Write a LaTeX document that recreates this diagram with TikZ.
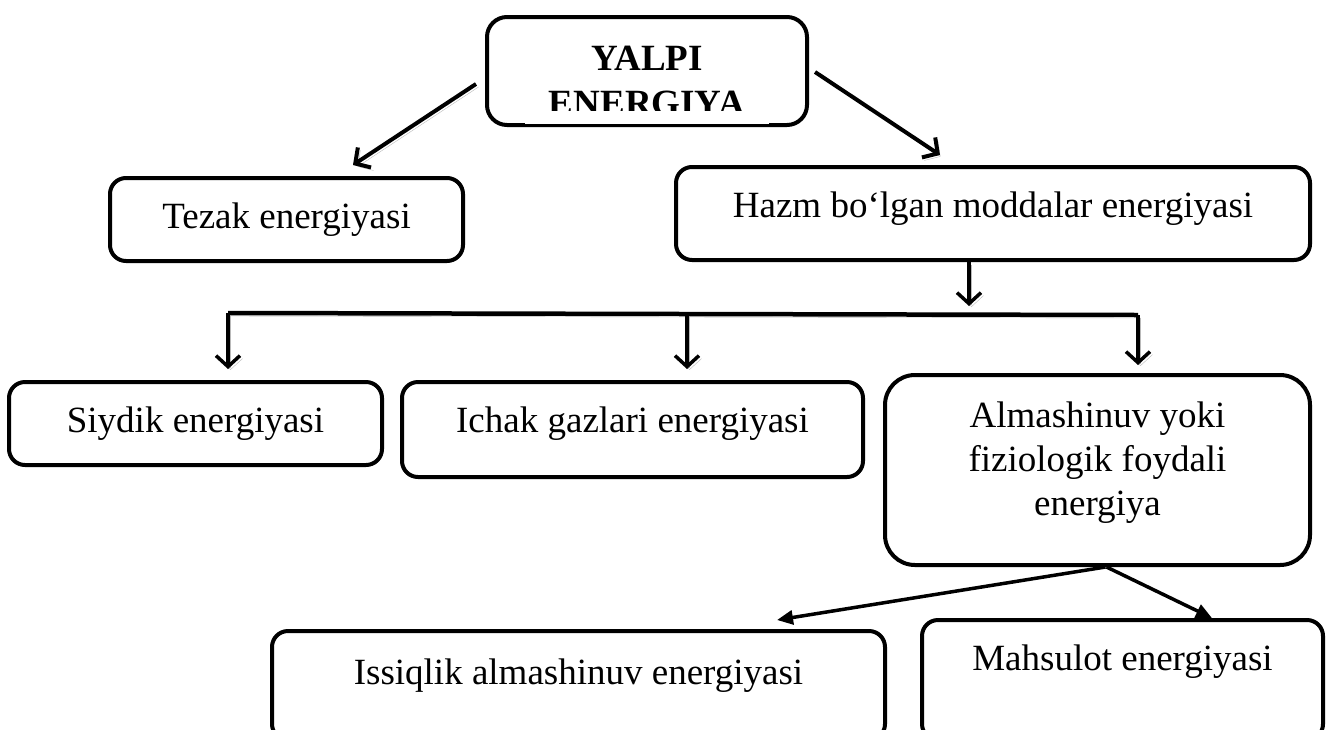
\documentclass[tikz,border=0pt]{standalone}
\usepackage{fontspec}
\setmainfont{Liberation Serif}
\usetikzlibrary{arrows.meta,calc}
\begin{document}
\begin{tikzpicture}[x=1pt,y=-1pt]

    \tikzset{
      ebox/.style={
        draw,
        line width=4pt,
        rounded corners=16pt,
        align=center,
        anchor=north,
        inner xsep=0pt,
        inner ysep=0pt,
        font=\fontsize{37}{44}\selectfont,
      },
      grayshadow/.style={
        preaction={draw=gray!55, transform canvas={shift={(2.5pt,-3pt)}}},
      },
      barb/.style={
        line width=4pt,
        -{Straight Barb[length=11pt,width=24pt]},
      },
      tri/.style={
        line width=3.5pt,
        -{Triangle[length=16pt,width=14pt]},
      },
    }
    \useasboundingbox (0,0) rectangle (1327,729);
    \clip (0,0) rectangle (1327,729);
	\node[ebox, minimum width=320pt, text height=98pt, text depth=10pt, rounded corners=20pt, font=\fontsize{37}{45}\selectfont\bfseries] (yalpi) at (647,15) {YALPI\\ENERGIYA};
	\fill[white] ($(yalpi.south west)+(40,-16)$) rectangle ($(yalpi.south east)+(-40,-3)$);
	\node[ebox, minimum width=353pt, text height=50pt, text depth=33pt] (tezak) at (286.5,176) {Tezak energiyasi};
	\node[ebox, minimum width=634pt, text height=50pt, text depth=43pt] (hazm) at (993,165) {Hazm bo‘lgan moddalar energiyasi};
	\node[ebox, minimum width=373pt, text height=50pt, text depth=33pt] (siydik) at (195.5,380) {Siydik energiyasi};
	\node[ebox, minimum width=461pt, text height=50pt, text depth=45pt] (ichak) at (632.5,380) {Ichak gazlari energiyasi};
	\node[ebox, minimum width=425pt, text height=140pt, text depth=50pt, rounded corners=30pt] (almash) at (1097.5,373) {Almashinuv yoki\\fiziologik foydali\\energiya};
	\node[ebox, minimum width=613pt, text height=53pt, text depth=56pt] (issiq) at (578.5,629) {Issiqlik almashinuv energiyasi};
	\node[ebox, minimum width=401pt, text height=50pt, text depth=70pt] (mahsul) at (1122.5,618) {Mahsulot energiyasi};

	\draw[barb, grayshadow] ($(yalpi.west)+(-9,13)$) -- ($(tezak.north)+(66.5,-11)$);
	\draw[barb, grayshadow] ($(yalpi.east)+(6,1)$) -- ($(hazm.north)+(-53,-10)$);
	\draw[barb, grayshadow, line width=3.5pt] ($(hazm.south)+(-24,0)$) -- ++(0,44);

	\coordinate (barL) at (228,313);
	\coordinate (barM) at (687,314);
	\coordinate (barR) at (1138,315);
	\draw[line width=4.5pt, grayshadow] (barL) -- (barR);
	\draw[barb, grayshadow, line width=3.5pt, shorten >=11pt] (barL) -- (barL |- siydik.north);
	\draw[barb, grayshadow, line width=3.5pt, shorten >=11pt] (barM) -- (barM |- ichak.north);
	\draw[barb, grayshadow, line width=3.5pt, shorten >=8pt] (barR) -- (barR |- almash.north);

	\draw[tri] ($(almash.south)+(8,0)$) -- ($(issiq.north)+(198.5,-9)$);
	\draw[tri] ($(almash.south)+(9,0)$) -- ($(mahsul.north)+(89.5,0)$);

\end{tikzpicture}
\end{document}
